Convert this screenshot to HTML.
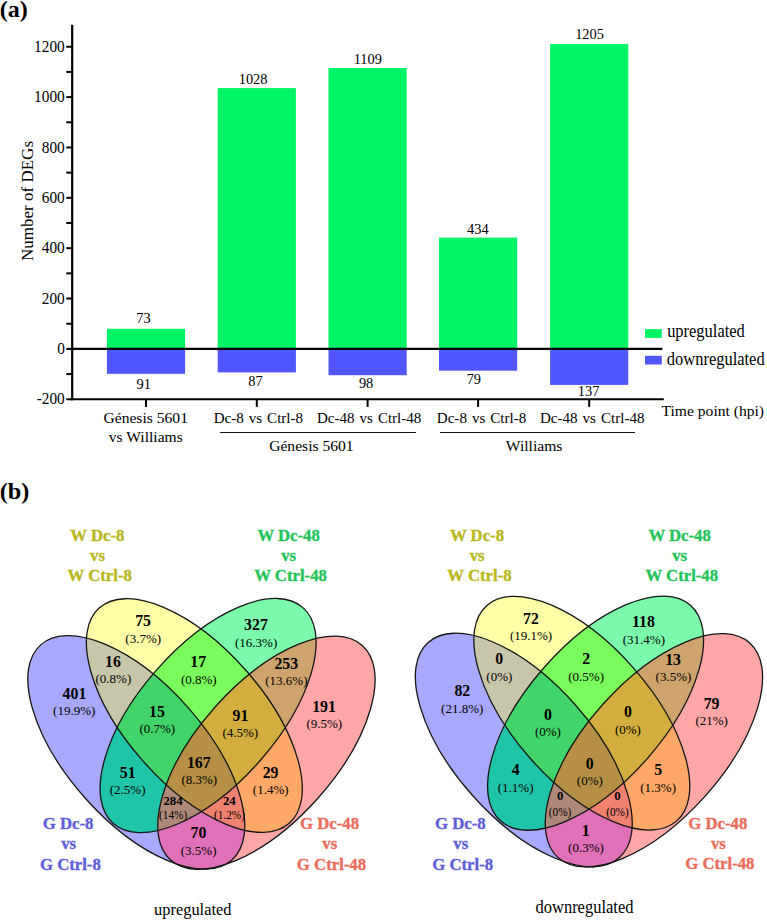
<!DOCTYPE html>
<html><head><meta charset="utf-8"><style>
html,body{margin:0;padding:0;background:#fff;}
body{width:767px;height:921px;overflow:hidden;}
svg{display:block;font-family:"Liberation Serif",serif;}
</style></head><body>
<svg width="767" height="921" viewBox="0 0 767 921">
<defs><clipPath id="c0B"><ellipse transform="translate(136.29,752.41) rotate(48.36)" rx="143.9" ry="68.53" /></clipPath><clipPath id="c0Y"><ellipse transform="translate(194.32,715.57) rotate(48.61)" rx="143.57" ry="68.6" /></clipPath><clipPath id="c0G"><ellipse transform="translate(208.10,715.56) rotate(-48.7)" rx="143.68" ry="68.81" /></clipPath><clipPath id="c0R"><ellipse transform="translate(266.42,752.72) rotate(-48.23)" rx="143.88" ry="68.72" /></clipPath><clipPath id="c1B"><ellipse transform="translate(523.79,750.01) rotate(48.36)" rx="143.9" ry="68.53" /></clipPath><clipPath id="c1Y"><ellipse transform="translate(581.82,713.17) rotate(48.61)" rx="143.57" ry="68.6" /></clipPath><clipPath id="c1G"><ellipse transform="translate(595.60,713.16) rotate(-48.7)" rx="143.68" ry="68.81" /></clipPath><clipPath id="c1R"><ellipse transform="translate(653.92,750.32) rotate(-48.23)" rx="143.88" ry="68.72" /></clipPath></defs>
<line x1="72.2" y1="24.8" x2="72.2" y2="400.2" stroke="#000" stroke-width="2.2"/>
<line x1="66.3" y1="399.26" x2="72.2" y2="399.26" stroke="#000" stroke-width="2"/>
<line x1="66.3" y1="374.08" x2="72.2" y2="374.08" stroke="#000" stroke-width="2"/>
<line x1="66.3" y1="348.90" x2="72.2" y2="348.90" stroke="#000" stroke-width="2"/>
<line x1="66.3" y1="323.72" x2="72.2" y2="323.72" stroke="#000" stroke-width="2"/>
<line x1="66.3" y1="298.54" x2="72.2" y2="298.54" stroke="#000" stroke-width="2"/>
<line x1="66.3" y1="273.36" x2="72.2" y2="273.36" stroke="#000" stroke-width="2"/>
<line x1="66.3" y1="248.18" x2="72.2" y2="248.18" stroke="#000" stroke-width="2"/>
<line x1="66.3" y1="223.00" x2="72.2" y2="223.00" stroke="#000" stroke-width="2"/>
<line x1="66.3" y1="197.82" x2="72.2" y2="197.82" stroke="#000" stroke-width="2"/>
<line x1="66.3" y1="172.64" x2="72.2" y2="172.64" stroke="#000" stroke-width="2"/>
<line x1="66.3" y1="147.46" x2="72.2" y2="147.46" stroke="#000" stroke-width="2"/>
<line x1="66.3" y1="122.28" x2="72.2" y2="122.28" stroke="#000" stroke-width="2"/>
<line x1="66.3" y1="97.10" x2="72.2" y2="97.10" stroke="#000" stroke-width="2"/>
<line x1="66.3" y1="71.92" x2="72.2" y2="71.92" stroke="#000" stroke-width="2"/>
<line x1="66.3" y1="46.74" x2="72.2" y2="46.74" stroke="#000" stroke-width="2"/>
<rect x="106.9" y="328.8" width="78.2" height="19.80" fill="#00F566"/>
<rect x="106.9" y="348.6" width="78.2" height="25.20" fill="#5256FF"/>
<rect x="217.7" y="88.1" width="78.2" height="260.50" fill="#00F566"/>
<rect x="217.7" y="348.6" width="78.2" height="23.80" fill="#5256FF"/>
<rect x="328.5" y="68.0" width="78.2" height="280.60" fill="#00F566"/>
<rect x="328.5" y="348.6" width="78.2" height="26.60" fill="#5256FF"/>
<rect x="439.0" y="237.6" width="78.2" height="111.00" fill="#00F566"/>
<rect x="439.0" y="348.6" width="78.2" height="22.10" fill="#5256FF"/>
<rect x="550.1" y="43.9" width="78.2" height="304.70" fill="#00F566"/>
<rect x="550.1" y="348.6" width="78.2" height="36.30" fill="#5256FF"/>
<line x1="72.2" y1="348.9" x2="662.4" y2="348.9" stroke="#000" stroke-width="2.1"/>
<line x1="71.10000000000001" y1="399.2" x2="663.8" y2="399.2" stroke="#000" stroke-width="2.1"/>
<line x1="146.00" y1="399.2" x2="146.00" y2="406.9" stroke="#000" stroke-width="2"/>
<line x1="256.80" y1="399.2" x2="256.80" y2="406.9" stroke="#000" stroke-width="2"/>
<line x1="367.60" y1="399.2" x2="367.60" y2="406.9" stroke="#000" stroke-width="2"/>
<line x1="478.10" y1="399.2" x2="478.10" y2="406.9" stroke="#000" stroke-width="2"/>
<line x1="589.20" y1="399.2" x2="589.20" y2="406.9" stroke="#000" stroke-width="2"/>
<line x1="220.1" y1="432.5" x2="415.9" y2="432.5" stroke="#111" stroke-width="1.1"/>
<line x1="440" y1="432.5" x2="635" y2="432.5" stroke="#111" stroke-width="1.1"/>
<rect x="645" y="329.1" width="16.8" height="8.8" fill="#00F566"/>
<rect x="645" y="355.8" width="16.8" height="8.7" fill="#5256FF"/>
<ellipse transform="translate(136.29,752.41) rotate(48.36)" rx="143.9" ry="68.53" fill="#A8A8FC"/>
<ellipse transform="translate(194.32,715.57) rotate(48.61)" rx="143.57" ry="68.6" fill="#FFFFA8"/>
<ellipse transform="translate(208.10,715.56) rotate(-48.7)" rx="143.68" ry="68.81" fill="#7AFAAA"/>
<ellipse transform="translate(266.42,752.72) rotate(-48.23)" rx="143.88" ry="68.72" fill="#FFA6A6"/>
<g clip-path="url(#c0B)"><ellipse transform="translate(194.32,715.57) rotate(48.61)" rx="143.57" ry="68.6" fill="#C8C6A8"/></g>
<g clip-path="url(#c0B)"><ellipse transform="translate(208.10,715.56) rotate(-48.7)" rx="143.68" ry="68.81" fill="#20C4A8"/></g>
<g clip-path="url(#c0B)"><ellipse transform="translate(266.42,752.72) rotate(-48.23)" rx="143.88" ry="68.72" fill="#E070B8"/></g>
<g clip-path="url(#c0Y)"><ellipse transform="translate(208.10,715.56) rotate(-48.7)" rx="143.68" ry="68.81" fill="#7AFD5C"/></g>
<g clip-path="url(#c0Y)"><ellipse transform="translate(266.42,752.72) rotate(-48.23)" rx="143.88" ry="68.72" fill="#FFA868"/></g>
<g clip-path="url(#c0G)"><ellipse transform="translate(266.42,752.72) rotate(-48.23)" rx="143.88" ry="68.72" fill="#CEA46E"/></g>
<g clip-path="url(#c0Y)"><g clip-path="url(#c0B)"><ellipse transform="translate(208.10,715.56) rotate(-48.7)" rx="143.68" ry="68.81" fill="#40D46A"/></g></g>
<g clip-path="url(#c0Y)"><g clip-path="url(#c0B)"><ellipse transform="translate(266.42,752.72) rotate(-48.23)" rx="143.88" ry="68.72" fill="#F08070"/></g></g>
<g clip-path="url(#c0G)"><g clip-path="url(#c0B)"><ellipse transform="translate(266.42,752.72) rotate(-48.23)" rx="143.88" ry="68.72" fill="#B08878"/></g></g>
<g clip-path="url(#c0G)"><g clip-path="url(#c0Y)"><ellipse transform="translate(266.42,752.72) rotate(-48.23)" rx="143.88" ry="68.72" fill="#D2AE3E"/></g></g>
<g clip-path="url(#c0G)"><g clip-path="url(#c0Y)"><g clip-path="url(#c0B)"><ellipse transform="translate(266.42,752.72) rotate(-48.23)" rx="143.88" ry="68.72" fill="#B69046"/></g></g></g>
<ellipse transform="translate(136.29,752.41) rotate(48.36)" rx="143.9" ry="68.53" fill="none" stroke="#161616" stroke-width="1.3"/>
<ellipse transform="translate(194.32,715.57) rotate(48.61)" rx="143.57" ry="68.6" fill="none" stroke="#161616" stroke-width="1.3"/>
<ellipse transform="translate(208.10,715.56) rotate(-48.7)" rx="143.68" ry="68.81" fill="none" stroke="#161616" stroke-width="1.3"/>
<ellipse transform="translate(266.42,752.72) rotate(-48.23)" rx="143.88" ry="68.72" fill="none" stroke="#161616" stroke-width="1.3"/>
<ellipse transform="translate(523.79,750.01) rotate(48.36)" rx="143.9" ry="68.53" fill="#A8A8FC"/>
<ellipse transform="translate(581.82,713.17) rotate(48.61)" rx="143.57" ry="68.6" fill="#FFFFA8"/>
<ellipse transform="translate(595.60,713.16) rotate(-48.7)" rx="143.68" ry="68.81" fill="#7AFAAA"/>
<ellipse transform="translate(653.92,750.32) rotate(-48.23)" rx="143.88" ry="68.72" fill="#FFA6A6"/>
<g clip-path="url(#c1B)"><ellipse transform="translate(581.82,713.17) rotate(48.61)" rx="143.57" ry="68.6" fill="#C8C6A8"/></g>
<g clip-path="url(#c1B)"><ellipse transform="translate(595.60,713.16) rotate(-48.7)" rx="143.68" ry="68.81" fill="#20C4A8"/></g>
<g clip-path="url(#c1B)"><ellipse transform="translate(653.92,750.32) rotate(-48.23)" rx="143.88" ry="68.72" fill="#E070B8"/></g>
<g clip-path="url(#c1Y)"><ellipse transform="translate(595.60,713.16) rotate(-48.7)" rx="143.68" ry="68.81" fill="#7AFD5C"/></g>
<g clip-path="url(#c1Y)"><ellipse transform="translate(653.92,750.32) rotate(-48.23)" rx="143.88" ry="68.72" fill="#FFA868"/></g>
<g clip-path="url(#c1G)"><ellipse transform="translate(653.92,750.32) rotate(-48.23)" rx="143.88" ry="68.72" fill="#CEA46E"/></g>
<g clip-path="url(#c1Y)"><g clip-path="url(#c1B)"><ellipse transform="translate(595.60,713.16) rotate(-48.7)" rx="143.68" ry="68.81" fill="#40D46A"/></g></g>
<g clip-path="url(#c1Y)"><g clip-path="url(#c1B)"><ellipse transform="translate(653.92,750.32) rotate(-48.23)" rx="143.88" ry="68.72" fill="#F08070"/></g></g>
<g clip-path="url(#c1G)"><g clip-path="url(#c1B)"><ellipse transform="translate(653.92,750.32) rotate(-48.23)" rx="143.88" ry="68.72" fill="#B08878"/></g></g>
<g clip-path="url(#c1G)"><g clip-path="url(#c1Y)"><ellipse transform="translate(653.92,750.32) rotate(-48.23)" rx="143.88" ry="68.72" fill="#D2AE3E"/></g></g>
<g clip-path="url(#c1G)"><g clip-path="url(#c1Y)"><g clip-path="url(#c1B)"><ellipse transform="translate(653.92,750.32) rotate(-48.23)" rx="143.88" ry="68.72" fill="#B69046"/></g></g></g>
<ellipse transform="translate(523.79,750.01) rotate(48.36)" rx="143.9" ry="68.53" fill="none" stroke="#161616" stroke-width="1.3"/>
<ellipse transform="translate(581.82,713.17) rotate(48.61)" rx="143.57" ry="68.6" fill="none" stroke="#161616" stroke-width="1.3"/>
<ellipse transform="translate(595.60,713.16) rotate(-48.7)" rx="143.68" ry="68.81" fill="none" stroke="#161616" stroke-width="1.3"/>
<ellipse transform="translate(653.92,750.32) rotate(-48.23)" rx="143.88" ry="68.72" fill="none" stroke="#161616" stroke-width="1.3"/>
<text transform="translate(-0.25,17.30) scale(1.04,1)" font-size="23.2" font-weight="bold">(a)</text>
<text transform="translate(36.68,404.46) scale(0.93,1)" font-size="16.5">-200</text>
<text transform="translate(57.14,354.10) scale(0.93,1)" font-size="16.5">0</text>
<text transform="translate(41.79,303.74) scale(0.93,1)" font-size="16.5">200</text>
<text transform="translate(41.79,253.38) scale(0.93,1)" font-size="16.5">400</text>
<text transform="translate(41.79,203.02) scale(0.93,1)" font-size="16.5">600</text>
<text transform="translate(41.79,152.66) scale(0.93,1)" font-size="16.5">800</text>
<text transform="translate(34.12,102.30) scale(0.93,1)" font-size="16.5">1000</text>
<text transform="translate(34.12,51.94) scale(0.93,1)" font-size="16.5">1200</text>
<text transform="translate(32.60,260.93) rotate(-90)" font-size="17.0">Number of DEGs</text>
<text transform="translate(136.36,322.90) scale(0.96,1)" font-size="15.0">73</text>
<text transform="translate(136.44,388.60) scale(0.96,1)" font-size="15.0">91</text>
<text transform="translate(238.74,83.90) scale(0.96,1)" font-size="15.0">1028</text>
<text transform="translate(248.20,385.80) scale(0.96,1)" font-size="15.0">87</text>
<text transform="translate(353.70,64.00) scale(0.96,1)" font-size="15.0">1109</text>
<text transform="translate(358.90,388.20) scale(0.96,1)" font-size="15.0">98</text>
<text transform="translate(467.00,234.30) scale(0.96,1)" font-size="15.0">434</text>
<text transform="translate(466.66,383.80) scale(0.96,1)" font-size="15.0">79</text>
<text transform="translate(575.14,39.20) scale(0.96,1)" font-size="15.0">1205</text>
<text transform="translate(577.84,396.30) scale(0.96,1)" font-size="15.0">137</text>
<text x="103.48" y="422.80" font-size="15.6">Génesis 5601</text>
<text x="108.81" y="442.40" font-size="15.6">vs Williams</text>
<text transform="translate(213.64,422.80) scale(0.965,1)" font-size="15.6" word-spacing="1.3">Dc-8 vs Ctrl-8</text>
<text transform="translate(316.91,422.80) scale(0.965,1)" font-size="15.6" word-spacing="1.3">Dc-48 vs Ctrl-48</text>
<text transform="translate(436.84,422.80) scale(0.965,1)" font-size="15.6" word-spacing="1.3">Dc-8 vs Ctrl-8</text>
<text transform="translate(540.01,422.80) scale(0.965,1)" font-size="15.6" word-spacing="1.3">Dc-48 vs Ctrl-48</text>
<text x="269.18" y="451.20" font-size="15.6">Génesis 5601</text>
<text x="505.85" y="451.20" font-size="15.6">Williams</text>
<text transform="translate(667.13,336.60) scale(0.9,1)" font-size="18.3">upregulated</text>
<text transform="translate(666.85,364.60) scale(0.9,1)" font-size="18.3">downregulated</text>
<text x="661.54" y="416.20" font-size="15.6">Time point (hpi)</text>
<text transform="translate(-0.24,498.50) scale(1.03,1)" font-size="23.6" font-weight="bold">(b)</text>
<text transform="translate(135.16,626.40) scale(0.93,1)" font-size="17.0" font-weight="bold">75</text>
<text x="125.32" y="642.80" font-size="13.0">(3.7%)</text>
<text transform="translate(244.11,630.20) scale(0.93,1)" font-size="17.0" font-weight="bold">327</text>
<text x="234.98" y="646.60" font-size="13.0">(16.3%)</text>
<text transform="translate(105.10,666.60) scale(0.93,1)" font-size="17.0" font-weight="bold">16</text>
<text x="95.53" y="683.00" font-size="13.0">(0.8%)</text>
<text transform="translate(190.37,667.40) scale(0.93,1)" font-size="17.0" font-weight="bold">17</text>
<text x="180.93" y="683.80" font-size="13.0">(0.8%)</text>
<text transform="translate(274.41,668.50) scale(0.93,1)" font-size="17.0" font-weight="bold">253</text>
<text x="265.27" y="684.90" font-size="13.0">(13.6%)</text>
<text transform="translate(62.61,699.00) scale(0.93,1)" font-size="17.0" font-weight="bold">401</text>
<text x="53.08" y="715.40" font-size="13.0">(19.9%)</text>
<text transform="translate(312.18,711.90) scale(0.93,1)" font-size="17.0" font-weight="bold">191</text>
<text x="306.43" y="728.30" font-size="13.0">(9.5%)</text>
<text transform="translate(149.00,717.00) scale(0.93,1)" font-size="17.0" font-weight="bold">15</text>
<text x="139.43" y="733.40" font-size="13.0">(0.7%)</text>
<text transform="translate(232.53,720.50) scale(0.93,1)" font-size="17.0" font-weight="bold">91</text>
<text x="222.43" y="736.90" font-size="13.0">(4.5%)</text>
<text transform="translate(186.92,767.50) scale(0.93,1)" font-size="17.0" font-weight="bold">167</text>
<text x="181.43" y="783.90" font-size="13.0">(8.3%)</text>
<text transform="translate(119.83,777.90) scale(0.93,1)" font-size="17.0" font-weight="bold">51</text>
<text x="109.72" y="794.30" font-size="13.0">(2.5%)</text>
<text transform="translate(262.66,777.90) scale(0.93,1)" font-size="17.0" font-weight="bold">29</text>
<text x="252.82" y="794.30" font-size="13.0">(1.4%)</text>
<text transform="translate(163.41,804.90) scale(0.96,1)" font-size="13.3" font-weight="bold">284</text>
<text transform="translate(159.11,818.90) scale(0.98,1)" font-size="11.5">(14%)</text>
<text transform="translate(222.90,804.90) scale(0.96,1)" font-size="13.3" font-weight="bold">24</text>
<text transform="translate(214.00,818.90) scale(0.98,1)" font-size="11.5">(1.2%)</text>
<text transform="translate(190.56,838.20) scale(0.93,1)" font-size="17.0" font-weight="bold">70</text>
<text x="180.72" y="854.60" font-size="13.0">(3.5%)</text>
<text transform="translate(523.10,623.90) scale(0.93,1)" font-size="17.0" font-weight="bold">72</text>
<text x="509.88" y="640.30" font-size="13.0">(19.1%)</text>
<text transform="translate(632.04,627.20) scale(0.93,1)" font-size="17.0" font-weight="bold">118</text>
<text x="622.77" y="643.60" font-size="13.0">(31.4%)</text>
<text transform="translate(495.35,664.40) scale(0.93,1)" font-size="17.0" font-weight="bold">0</text>
<text x="486.30" y="680.80" font-size="13.0">(0%)</text>
<text transform="translate(582.15,664.40) scale(0.93,1)" font-size="17.0" font-weight="bold">2</text>
<text x="568.23" y="680.80" font-size="13.0">(0.5%)</text>
<text transform="translate(665.20,665.00) scale(0.93,1)" font-size="17.0" font-weight="bold">13</text>
<text x="655.62" y="681.40" font-size="13.0">(3.5%)</text>
<text transform="translate(454.43,696.20) scale(0.93,1)" font-size="17.0" font-weight="bold">82</text>
<text x="441.07" y="712.60" font-size="13.0">(21.8%)</text>
<text transform="translate(703.66,708.90) scale(0.93,1)" font-size="17.0" font-weight="bold">79</text>
<text x="695.45" y="725.30" font-size="13.0">(21%)</text>
<text transform="translate(543.95,720.00) scale(0.93,1)" font-size="17.0" font-weight="bold">0</text>
<text x="534.90" y="736.40" font-size="13.0">(0%)</text>
<text transform="translate(623.95,717.30) scale(0.93,1)" font-size="17.0" font-weight="bold">0</text>
<text x="614.90" y="733.70" font-size="13.0">(0%)</text>
<text transform="translate(585.85,768.90) scale(0.93,1)" font-size="17.0" font-weight="bold">0</text>
<text x="576.80" y="785.30" font-size="13.0">(0%)</text>
<text transform="translate(511.65,775.10) scale(0.93,1)" font-size="17.0" font-weight="bold">4</text>
<text x="497.73" y="791.50" font-size="13.0">(1.1%)</text>
<text transform="translate(654.15,775.10) scale(0.93,1)" font-size="17.0" font-weight="bold">5</text>
<text x="640.23" y="791.50" font-size="13.0">(1.3%)</text>
<text transform="translate(556.91,800.40) scale(0.96,1)" font-size="13.3" font-weight="bold">0</text>
<text transform="translate(548.83,816.10) scale(0.98,1)" font-size="11.5">(0%)</text>
<text transform="translate(614.31,800.40) scale(0.96,1)" font-size="13.3" font-weight="bold">0</text>
<text transform="translate(606.23,816.10) scale(0.98,1)" font-size="11.5">(0%)</text>
<text transform="translate(581.78,835.60) scale(0.93,1)" font-size="17.0" font-weight="bold">1</text>
<text x="568.12" y="852.00" font-size="13.0">(0.3%)</text>
<text transform="translate(70.37,541.00) scale(0.985,1)" font-size="17.0" font-weight="bold" fill="#B8B81A" stroke="#B8B81A" stroke-width="0.35">W Dc-8</text>
<text transform="translate(90.04,561.00) scale(0.985,1)" font-size="17.0" font-weight="bold" fill="#B8B81A" stroke="#B8B81A" stroke-width="0.35">vs</text>
<text transform="translate(67.54,581.00) scale(0.985,1)" font-size="17.0" font-weight="bold" fill="#B8B81A" stroke="#B8B81A" stroke-width="0.35">W Ctrl-8</text>
<text transform="translate(257.38,541.00) scale(0.985,1)" font-size="17.0" font-weight="bold" fill="#1FC457" stroke="#1FC457" stroke-width="0.35">W Dc-48</text>
<text transform="translate(281.24,561.00) scale(0.985,1)" font-size="17.0" font-weight="bold" fill="#1FC457" stroke="#1FC457" stroke-width="0.35">vs</text>
<text transform="translate(254.26,581.00) scale(0.985,1)" font-size="17.0" font-weight="bold" fill="#1FC457" stroke="#1FC457" stroke-width="0.35">W Ctrl-48</text>
<text transform="translate(42.80,829.40) scale(0.985,1)" font-size="17.0" font-weight="bold" fill="#5E5ED8" stroke="#5E5ED8" stroke-width="0.35">G Dc-8</text>
<text transform="translate(61.14,849.40) scale(0.985,1)" font-size="17.0" font-weight="bold" fill="#5E5ED8" stroke="#5E5ED8" stroke-width="0.35">vs</text>
<text transform="translate(39.94,869.50) scale(0.985,1)" font-size="17.0" font-weight="bold" fill="#5E5ED8" stroke="#5E5ED8" stroke-width="0.35">G Ctrl-8</text>
<text transform="translate(300.02,829.40) scale(0.985,1)" font-size="17.0" font-weight="bold" fill="#EC6C5A" stroke="#EC6C5A" stroke-width="0.35">G Dc-48</text>
<text transform="translate(322.34,849.40) scale(0.985,1)" font-size="17.0" font-weight="bold" fill="#EC6C5A" stroke="#EC6C5A" stroke-width="0.35">vs</text>
<text transform="translate(296.85,869.50) scale(0.985,1)" font-size="17.0" font-weight="bold" fill="#EC6C5A" stroke="#EC6C5A" stroke-width="0.35">G Ctrl-48</text>
<text transform="translate(449.97,541.00) scale(0.985,1)" font-size="17.0" font-weight="bold" fill="#B8B81A" stroke="#B8B81A" stroke-width="0.35">W Dc-8</text>
<text transform="translate(469.64,561.00) scale(0.985,1)" font-size="17.0" font-weight="bold" fill="#B8B81A" stroke="#B8B81A" stroke-width="0.35">vs</text>
<text transform="translate(447.34,581.00) scale(0.985,1)" font-size="17.0" font-weight="bold" fill="#B8B81A" stroke="#B8B81A" stroke-width="0.35">W Ctrl-8</text>
<text transform="translate(648.38,541.00) scale(0.985,1)" font-size="17.0" font-weight="bold" fill="#1FC457" stroke="#1FC457" stroke-width="0.35">W Dc-48</text>
<text transform="translate(672.14,561.00) scale(0.985,1)" font-size="17.0" font-weight="bold" fill="#1FC457" stroke="#1FC457" stroke-width="0.35">vs</text>
<text transform="translate(645.46,581.00) scale(0.985,1)" font-size="17.0" font-weight="bold" fill="#1FC457" stroke="#1FC457" stroke-width="0.35">W Ctrl-48</text>
<text transform="translate(435.00,829.20) scale(0.985,1)" font-size="17.0" font-weight="bold" fill="#5E5ED8" stroke="#5E5ED8" stroke-width="0.35">G Dc-8</text>
<text transform="translate(453.34,849.40) scale(0.985,1)" font-size="17.0" font-weight="bold" fill="#5E5ED8" stroke="#5E5ED8" stroke-width="0.35">vs</text>
<text transform="translate(432.24,869.50) scale(0.985,1)" font-size="17.0" font-weight="bold" fill="#5E5ED8" stroke="#5E5ED8" stroke-width="0.35">G Ctrl-8</text>
<text transform="translate(688.32,829.20) scale(0.985,1)" font-size="17.0" font-weight="bold" fill="#EC6C5A" stroke="#EC6C5A" stroke-width="0.35">G Dc-48</text>
<text transform="translate(710.94,849.40) scale(0.985,1)" font-size="17.0" font-weight="bold" fill="#EC6C5A" stroke="#EC6C5A" stroke-width="0.35">vs</text>
<text transform="translate(685.25,869.40) scale(0.985,1)" font-size="17.0" font-weight="bold" fill="#EC6C5A" stroke="#EC6C5A" stroke-width="0.35">G Ctrl-48</text>
<text transform="translate(154.07,915.10) scale(0.927,1)" font-size="17.7">upregulated</text>
<text transform="translate(535.51,913.40) scale(0.916,1)" font-size="18.0">downregulated</text>
</svg>
</body></html>
